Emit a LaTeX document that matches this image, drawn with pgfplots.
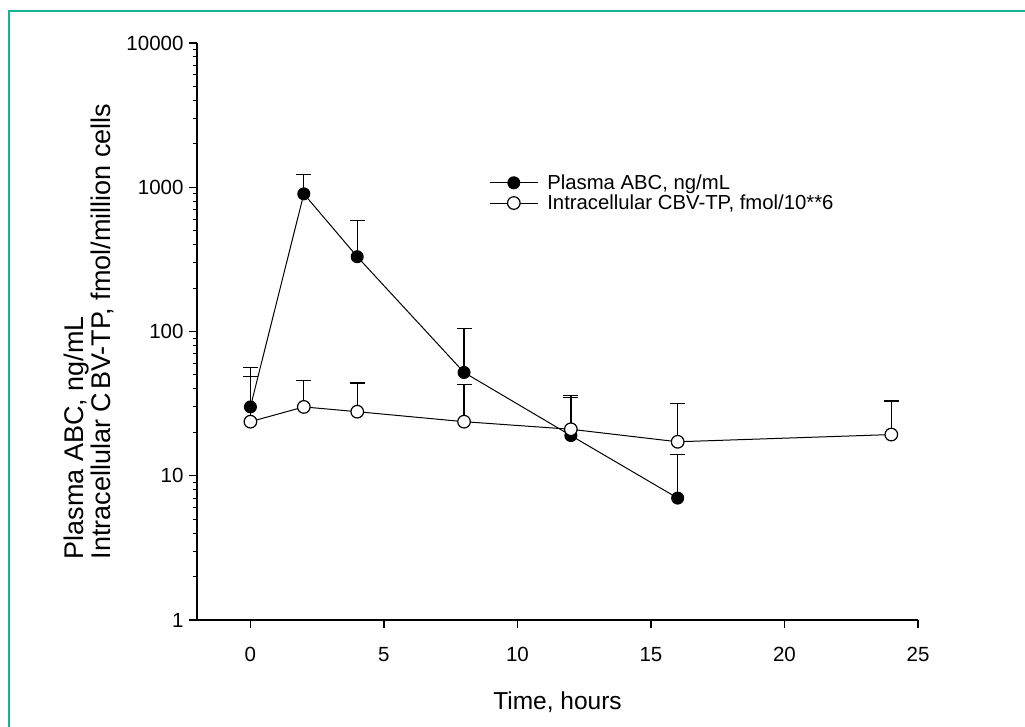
\documentclass[border=0pt]{standalone}
\usepackage{pgfplots}
\pgfplotsset{compat=1.18}
\usepackage{fontspec}
\setmainfont{Liberation Sans}
\definecolor{frame}{RGB}{22,178,152}

\begin{document}
\begin{tikzpicture}[x=1pt,y=1pt]
\path[use as bounding box] (0,0) rectangle (1025,727);
\draw[frame, line width=2.2pt] (9,0) -- (9,716) -- (1025,716);

\begin{axis}[
    at={(197pt,107pt)}, anchor=south west,
    scale only axis, width=721pt, height=577pt,
    xmin=-2, xmax=25, ymin=1, ymax=10000,
    ymode=log,
    axis x line*=bottom, axis y line*=left,
    axis line style={-, line width=1.5pt},
    xtick={0,5,10,15,20,25},
    ytick={1,10,100,1000,10000},
    yticklabels={1,10,100,1000,10000},
    tick align=outside,
    major tick length=8pt, minor tick length=4.5pt,
    tick style={black, line width=1.3pt},
    minor tick style={line width=1pt},
    xtick pos=bottom, ytick pos=left,
    /pgf/number format/assume math mode=true,
    tick label style={font=\fontsize{20.5}{23}\selectfont},
    xticklabel style={yshift=-16pt},
    yticklabel style={xshift=-2pt},
    clip=false,
    legend style={draw=none, fill=none, at={(0.401,0.779)}, anchor=north west,
        font=\fontsize{20.3}{22}\selectfont, row sep=0pt, column sep=7pt,
        cells={anchor=west}},
    legend image code/.code={
        \draw[#1, mark repeat=2, mark phase=2] plot coordinates {(0pt,0pt) (24pt,0pt) (48pt,0pt)};
    },
    error bars/y dir=plus, error bars/y explicit,
    error bars/error bar style={line width=1.3pt, black},
    error bars/error mark options={black, line width=1.3pt, mark size=7.5pt, rotate=90},
]

% Plasma ABC
\addplot[black, line width=1pt, mark=*, mark size=6pt, mark options={fill=black}]
coordinates {
    (0,30) += (0,26)
    (2,900) += (0,320)
    (4,330) += (0,260)
    (8,52) += (0,53)
    (12,19) += (0,16)
    (16,7) += (0,7)
};
\addlegendentry{Plasma ABC, ng/mL}

% Intracellular CBV-TP
\addplot[black, line width=1pt, mark=*, mark size=6.3pt, mark options={fill=white, line width=1.2pt}]
coordinates {
    (0,23.7) += (0,25)
    (2,30) += (0,15.5)
    (4,27.8) += (0,16.2)
    (8,23.7) += (0,19.2)
    (12,21) += (0,15)
    (16,17.2) += (0,14.4)
    (24,19.3) += (0,13.7)
};
\addlegendentry{Intracellular CBV-TP, fmol/10**6}

\end{axis}

\node[rotate=90, align=left, inner sep=0pt, font=\fontsize{27}{21.5}\selectfont] at (89,395.5)
    {Plasma ABC, ng/mL\\Intracellular C\kern3pt BV-TP, fmol/million cells};
\node[anchor=base, font=\fontsize{24.5}{27}\selectfont] at (557.5,17) {Time, hours};
\end{tikzpicture}
\end{document}
